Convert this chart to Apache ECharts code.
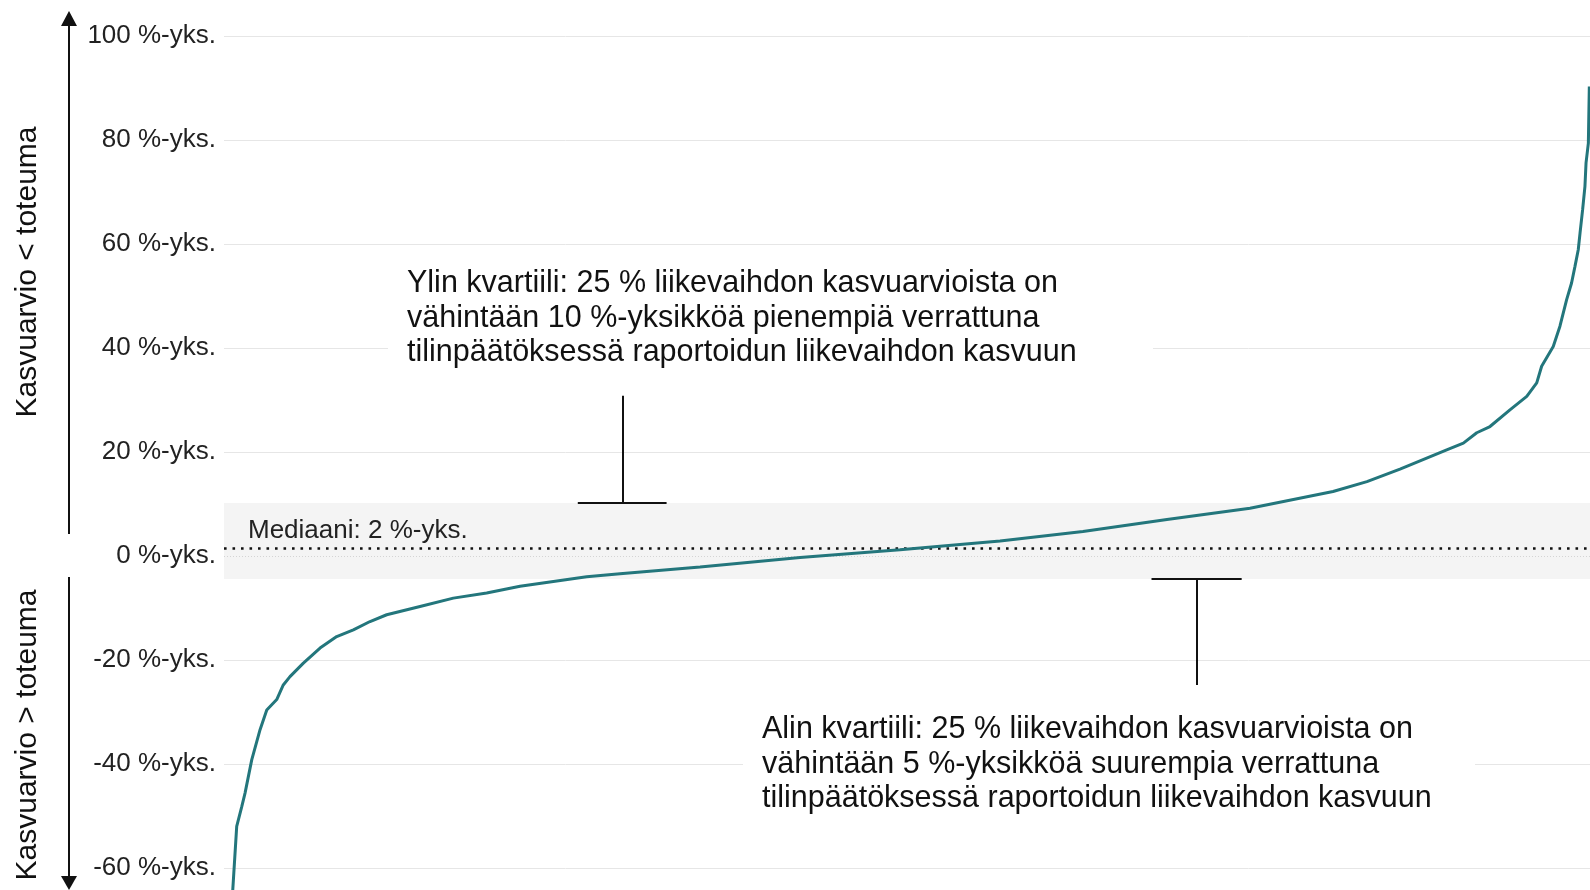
<!DOCTYPE html>
<html>
<head>
<meta charset="utf-8">
<script src="https://cdn.jsdelivr.net/npm/echarts@6/dist/echarts.min.js"></script>
<style>
html,body{margin:0;padding:0;background:#fff;}
#chart{width:1590px;height:890px;}
</style>
</head>
<body>
<div id="chart"></div>
<script>
// Percentile rank of each forecast (0-100) and forecast minus realized growth (%-points)
const rank = [0.5, 0.64, 0.93, 1.30, 1.54, 2.03, 2.64, 3.13, 3.86, 4.34, 4.83, 5.81, 7.03, 8.25, 9.47, 10.69, 11.91, 14.35, 16.79, 19.23, 21.67, 24.11, 26.55, 28.99, 34.85, 42.17, 49.49, 56.81, 62.88, 69.03, 75.11, 81.19, 83.67, 86.09, 89.51, 90.73, 91.71, 92.68, 94.14, 95.37, 96.10, 96.46, 97.31, 97.80, 98.29, 98.65, 98.90, 99.14, 99.27, 99.46, 99.63, 99.71, 99.88, 99.95];
const values = [-70, -64.3, -52, -48.2, -45.6, -39.2, -33.4, -29.6, -27.6, -24.8, -23.2, -20.6, -17.7, -15.5, -14.2, -12.6, -11.3, -9.7, -8.1, -7.1, -5.8, -4.9, -4.0, -3.4, -2.1, -0.3, 1.2, 2.9, 4.7, 7.0, 9.2, 12.4, 14.3, 16.7, 20.4, 21.7, 23.7, 24.9, 28.1, 30.7, 33.3, 36.5, 40.3, 44.2, 49.3, 52.5, 55.7, 58.9, 62.1, 66.6, 71.1, 75.6, 79.4, 90.3];
const yTicks = [-60, -40, -20, 0, 20, 40, 60, 80, 100];
const tickSuffix = ' %-yks.';
const median = 1.5;
const lowerQuartile = -4.4;
const upperQuartile = 10.2;
const medianLabel = 'Mediaani: 2 %-yks.';
const upperNote = 'Ylin kvartiili: 25 % liikevaihdon kasvuarvioista on\nvähintään 10 %-yksikköä pienempiä verrattuna\ntilinpäätöksessä raportoidun liikevaihdon kasvuun';
const lowerNote = 'Alin kvartiili: 25 % liikevaihdon kasvuarvioista on\nvähintään 5 %-yksikköä suurempia verrattuna\ntilinpäätöksessä raportoidun liikevaihdon kasvuun';
const axisTitleUp = 'Kasvuarvio < toteuma';
const axisTitleDown = 'Kasvuarvio > toteuma';
// annotation pointer positions (x in rank units, y in %-points)
const upperPointer = {x: 29.2, xFrom: 25.9, xTo: 32.4, yEnd: 30.8};
const lowerPointer = {x: 71.2, xFrom: 67.9, xTo: 74.5, yEnd: -24.8};

const FONT = '"Liberation Sans", Arial, sans-serif';
const chart = echarts.init(document.getElementById('chart'), null, {renderer: 'canvas'});
const black = '#111';

const option = {
  animation: false,
  backgroundColor: '#fff',
  grid: {left: 224, right: 0, top: -68, height: 1040, containLabel: false, outerBoundsMode: 'none'},
  xAxis: {type: 'value', min: 0, max: 100, show: false},
  yAxis: {
    type: 'value', min: -80, max: 120, interval: 20,
    axisLine: {show: false}, axisTick: {show: false},
    axisLabel: {
      margin: 8, fontSize: 26, fontFamily: FONT, color: '#222', padding: [5, 0, 0, 0],
      formatter: v => (yTicks.indexOf(v) >= 0 ? v + tickSuffix : '')
    },
    splitLine: {lineStyle: {color: '#e6e6e6', width: 1}}
  },
  series: [{
    type: 'line',
    data: rank.map((r, i) => [r, values[i]]),
    showSymbol: false,
    symbol: 'none',
    lineStyle: {color: '#23767c', width: 3},
    z: 5,
    markArea: {
      silent: true,
      itemStyle: {color: '#f4f4f4'},
      data: [[{yAxis: lowerQuartile}, {yAxis: upperQuartile}]]
    },
    markLine: {
      silent: true,
      symbol: 'none',
      label: {show: false},
      data: [
        {yAxis: 0, lineStyle: {color: '#d4d4d4', width: 1, type: [1, 2]}},
        {yAxis: median, lineStyle: {color: '#111', width: 2.6, type: [2.6, 5.9]}},
        [{coord: [upperPointer.x, upperQuartile]}, {coord: [upperPointer.x, upperPointer.yEnd]}],
        [{coord: [upperPointer.xFrom, upperQuartile]}, {coord: [upperPointer.xTo, upperQuartile]}],
        [{coord: [lowerPointer.x, lowerQuartile]}, {coord: [lowerPointer.x, lowerPointer.yEnd]}],
        [{coord: [lowerPointer.xFrom, lowerQuartile]}, {coord: [lowerPointer.xTo, lowerQuartile]}]
      ],
      lineStyle: {color: '#111', width: 2, type: 'solid'}
    }
  }],
  graphic: [
    {type: 'rect', shape: {x: 388, y: 262, width: 765, height: 108}, style: {fill: '#fff'}, z: 10},
    {type: 'rect', shape: {x: 743, y: 706, width: 732, height: 108}, style: {fill: '#fff'}, z: 10},
    {type: 'text', x: 407, y: 266.5, z: 11, style: {text: upperNote, font: '30.5px ' + FONT, fill: black, lineHeight: 34.5, verticalAlign: 'top'}},
    {type: 'text', x: 762, y: 712.5, z: 11, style: {text: lowerNote, font: '30.5px ' + FONT, fill: black, lineHeight: 34.5, verticalAlign: 'top'}},
    {type: 'text', x: 248, y: 531, z: 11, style: {text: medianLabel, font: '26px ' + FONT, fill: '#222', verticalAlign: 'middle'}},
    {type: 'text', x: 28, y: 272, rotation: Math.PI / 2, z: 11, style: {text: axisTitleUp, font: '30px ' + FONT, fill: black, align: 'center', verticalAlign: 'middle'}},
    {type: 'text', x: 28, y: 735, rotation: Math.PI / 2, z: 11, style: {text: axisTitleDown, font: '30px ' + FONT, fill: black, align: 'center', verticalAlign: 'middle'}},
    {type: 'line', shape: {x1: 69, y1: 24, x2: 69, y2: 534}, style: {stroke: black, lineWidth: 2}, z: 11},
    {type: 'polygon', shape: {points: [[61, 26], [77, 26], [69, 11]]}, style: {fill: black}, z: 11},
    {type: 'line', shape: {x1: 69, y1: 577, x2: 69, y2: 878}, style: {stroke: black, lineWidth: 2}, z: 11},
    {type: 'polygon', shape: {points: [[61, 876], [77, 876], [69, 890]]}, style: {fill: black}, z: 11}
  ]
};
chart.setOption(option);
</script>
</body>
</html>
